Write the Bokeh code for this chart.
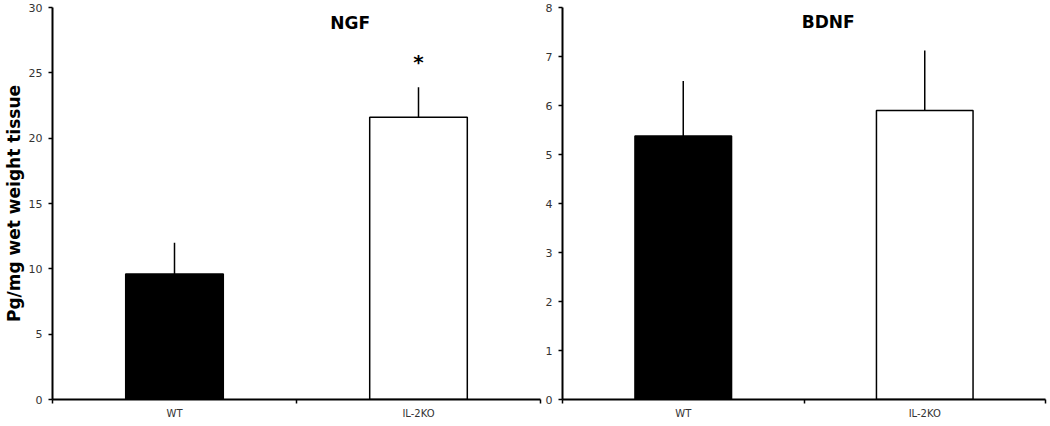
from bokeh.plotting import figure
from bokeh.layouts import row
from bokeh.models import FixedTicker, Range1d, Label, ColumnDataSource
from bokeh.embed import file_html
from bokeh.resources import INLINE
from bokeh.core.properties import value

groups = ["WT", "IL-2KO"]
ngf_mean = [9.6, 21.6]
ngf_err = [2.4, 2.3]
ngf_sig = ["", "*"]
bdnf_mean = [5.38, 5.9]
bdnf_err = [1.12, 1.22]
bdnf_sig = ["", ""]
bar_fill = ["black", "white"]
ngf_ticks = [0, 5, 10, 15, 20, 25, 30]
bdnf_ticks = [0, 1, 2, 3, 4, 5, 6, 7, 8]

FONT = "DejaVu Sans"
H = 424


def panel(title, means, errs, sig, ticks, width, bl, br, ylabel, title_x, title_y, star_gap):
    ymax = ticks[-1]
    n = len(groups)
    xs = [i + 0.5 for i in range(n)]
    src = ColumnDataSource(dict(
        x=xs, top=means, err_top=[m + e for m, e in zip(means, errs)],
        fill=bar_fill, label=sig,
        sig_y=[m + e + star_gap for m, e in zip(means, errs)],
    ))
    p = figure(width=width, height=H, output_backend="svg", toolbar_location=None,
               x_range=Range1d(0, n), y_range=Range1d(0, ymax),
               min_border_left=bl, min_border_right=br, min_border_top=7, min_border_bottom=25)
    p.outline_line_color = None
    p.xgrid.visible = False
    p.ygrid.visible = False
    p.background_fill_color = "white"

    p.segment(x0="x", y0="top", x1="x", y1="err_top", source=src, line_color="black", line_width=1.5)
    p.vbar(x="x", top="top", bottom=0, width=0.4, source=src, fill_color="fill",
           line_color="black", line_width=1.5)
    p.text(x="x", y="sig_y", text="label", source=src, text_align="center", text_baseline="middle",
           text_font=value(FONT), text_font_size="20px", text_font_style="bold", text_color="black")

    # y axis
    ya = p.yaxis[0]
    ya.ticker = FixedTicker(ticks=ticks)
    ya.axis_line_width = 2
    ya.axis_line_color = "black"
    ya.major_tick_line_width = 1.5
    ya.major_tick_out = 4
    ya.major_tick_in = 0
    ya.minor_tick_line_color = None
    ya.major_label_text_font = FONT
    ya.major_label_text_font_size = "11px"
    ya.major_label_text_color = "#333333"
    ya.major_label_standoff = 6
    if ylabel:
        ya.axis_label = ylabel
        ya.axis_label_text_font = FONT
        ya.axis_label_text_font_size = "17px"
        ya.axis_label_text_font_style = "bold"
        ya.axis_label_text_color = "black"
        ya.axis_label_standoff = 2

    # x axis
    xa = p.xaxis[0]
    xa.ticker = FixedTicker(ticks=xs, minor_ticks=list(range(n + 1)))
    xa.major_label_overrides = {x: g for x, g in zip(xs, groups)}
    xa.axis_line_width = 2
    xa.axis_line_color = "black"
    xa.major_tick_line_color = None
    xa.major_tick_out = 0
    xa.major_tick_in = 0
    xa.minor_tick_line_color = "black"
    xa.minor_tick_line_width = 1.5
    xa.minor_tick_out = 4
    xa.minor_tick_in = 0
    xa.major_label_text_font = FONT
    xa.major_label_text_font_size = "10px"
    xa.major_label_text_color = "#333333"
    xa.major_label_standoff = 4

    p.add_layout(Label(x=title_x, y=title_y, text=title, text_align="center",
                       text_baseline="middle", text_font=FONT, text_font_size="17px",
                       text_font_style="bold", text_color="black"))
    return p


p1 = panel("NGF", ngf_mean, ngf_err, ngf_sig, ngf_ticks, 542, 52, 2,
           "Pg/mg wet weight tissue", 1.22, 28.8, 1.9)
p2 = panel("BDNF", bdnf_mean, bdnf_err, bdnf_sig, bdnf_ticks, 506, 17, 3,
           None, 1.10, 7.7, 0.5)

layout = row(p1, p2)
open("out.html", "w").write(file_html(layout, INLINE))
